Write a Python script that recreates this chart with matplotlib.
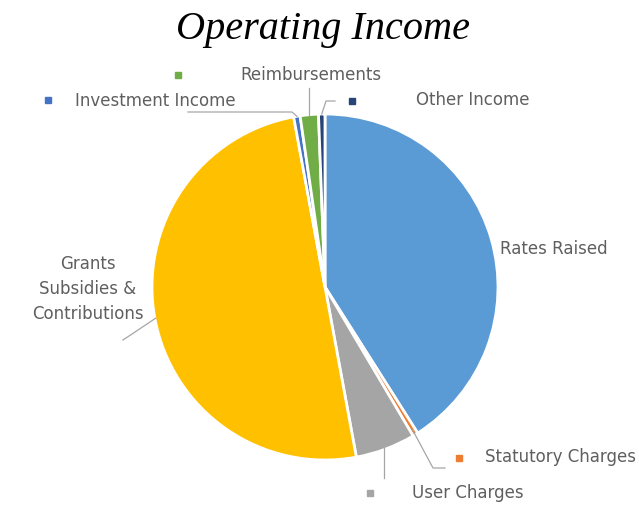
import numpy as np
import matplotlib
matplotlib.use("Agg")
import matplotlib.pyplot as plt

categories = ["Rates Raised", "Statutory Charges", "User Charges",
              "Grants\nSubsidies &\nContributions", "Investment Income",
              "Reimbursements", "Other Income"]
values = [41.0, 0.5, 5.6, 50.0, 0.6, 1.7, 0.6]
colors = ["#5B9BD5", "#ED7D31", "#A5A5A5", "#FFC000", "#4472C4", "#70AD47", "#264478"]
title = "Operating Income"

W, H = 639, 509
fig = plt.figure(figsize=(W / 100, H / 100), dpi=100)
ax = fig.add_axes([0, 0, 1, 1])

def Y(y):
    return H - y

cx, cy, R = 325, Y(287), 173
wedges, _ = ax.pie(values, colors=colors, startangle=90, counterclock=False,
                   center=(cx, cy), radius=R, frame=True,
                   wedgeprops=dict(edgecolor="white", linewidth=2.0))
ax.set_xlim(0, W)
ax.set_ylim(0, H)
ax.set_aspect("equal")
ax.axis("off")

def edge_point(w, frac=0.5, r=1.0):
    a = np.deg2rad(w.theta1 + (w.theta2 - w.theta1) * frac)
    return cx + R * r * np.cos(a), cy + R * r * np.sin(a)

txt = dict(color="#5f5f5f", fontsize=12, family="DejaVu Sans")
lc = "#A6A6A6"

# Rates Raised
ax.text(500, Y(249), categories[0], ha="left", va="center", **txt)

# Statutory Charges
p = edge_point(wedges[1], r=0.97)
ax.plot([p[0], 433, 445], [p[1], Y(468), Y(468)], color=lc, lw=0.9)
ax.plot([459], [Y(458)], marker="s", ms=4, color=colors[1], ls="none")
ax.text(485, Y(457), categories[1], ha="left", va="center", **txt)

# User Charges
p = edge_point(wedges[2], frac=0.5, r=0.98)
ax.plot([p[0], p[0]], [p[1], Y(478)], color=lc, lw=0.9)
ax.plot([370], [Y(493)], marker="s", ms=4, color=colors[2], ls="none")
ax.text(412, Y(493), categories[2], ha="left", va="center", **txt)

# Grants
p = edge_point(wedges[3], frac=0.5, r=0.995)
ax.plot([p[0], 123], [p[1], Y(340)], color=lc, lw=0.9)
ax.text(88, Y(289), categories[3], ha="center", va="center", linespacing=1.5, **txt)

# Investment Income
p = edge_point(wedges[4], r=1.0)
ax.plot([p[0], 292, 188], [p[1], Y(112), Y(112)], color=lc, lw=0.9)
ax.plot([48], [Y(100)], marker="s", ms=4, color=colors[4], ls="none")
ax.text(75, Y(101), categories[4], ha="left", va="center", **txt)

# Reimbursements
p = edge_point(wedges[5], r=1.0)
ax.plot([p[0], p[0]], [p[1], Y(88)], color=lc, lw=0.9)
ax.plot([178], [Y(75)], marker="s", ms=4, color=colors[5], ls="none")
ax.text(240, Y(75), categories[5], ha="left", va="center", **txt)

# Other Income
p = edge_point(wedges[6], r=1.0)
ax.plot([p[0], 326, 335], [p[1], Y(101), Y(101)], color=lc, lw=0.9)
ax.plot([352], [Y(101)], marker="s", ms=4, color=colors[6], ls="none")
ax.text(416, Y(100), categories[6], ha="left", va="center", **txt)

ax.text(W / 2 + 3, Y(29), title, ha="center", va="center", fontsize=29,
        family="Liberation Serif", style="italic", color="black")

fig.savefig("out.png", dpi=100)
